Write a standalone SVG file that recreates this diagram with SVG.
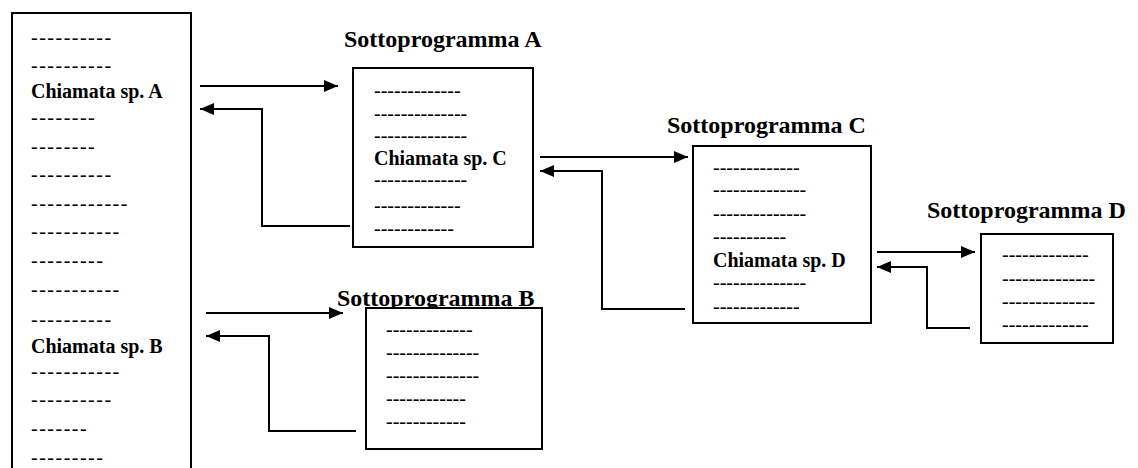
<svg xmlns="http://www.w3.org/2000/svg" width="1138" height="468" viewBox="0 0 1138 468">
<defs>
<style>
.box{fill:#fff;stroke:#000;stroke-width:2}
.t{font-family:"Liberation Serif","Times New Roman",serif;font-size:20px;fill:#000}
.d{font-family:"Liberation Serif","Times New Roman",serif;font-size:20px;fill:#000}
.dl{font-family:"Liberation Serif","Times New Roman",serif;font-size:20px;letter-spacing:1.5px;fill:#000}
.b{font-family:"Liberation Serif","Times New Roman",serif;font-size:20px;font-weight:bold;fill:#000}
.h{font-family:"Liberation Serif","Times New Roman",serif;font-size:24px;font-weight:bold;fill:#000}
.c{fill:none;stroke:#000;stroke-width:2}
</style>
<marker id="ah" markerUnits="userSpaceOnUse" markerWidth="14" markerHeight="12" refX="14" refY="6" orient="auto">
<path d="M0,0 L14,6 L0,12 z" fill="#000"/>
</marker>
</defs>
<rect width="1138" height="468" fill="#fff"/>

<g id="main">
<path class="box" d="M12,472 V13 H191 V472"/>
<text class="dl" x="31" y="43.5">----------</text>
<text class="dl" x="31" y="71.8">----------</text>
<text class="b" x="31" y="98">Chiamata sp. A</text>
<text class="dl" x="31" y="123.8">--------</text>
<text class="dl" x="31" y="152.5">--------</text>
<text class="dl" x="31" y="181.2">----------</text>
<text class="dl" x="31" y="209.5">------------</text>
<text class="dl" x="31" y="237.8">-----------</text>
<text class="dl" x="31" y="267.2">---------</text>
<text class="dl" x="31" y="296.2">-----------</text>
<text class="dl" x="31" y="325.5">----------</text>
<text class="b" x="31" y="352.7">Chiamata sp. B</text>
<text class="dl" x="31" y="377.8">-----------</text>
<text class="dl" x="31" y="406.2">----------</text>
<text class="dl" x="31" y="435.2">-------</text>
<text class="dl" x="31" y="463.5">---------</text>
</g>

<g id="spA">
<text class="h" x="344" y="47">Sottoprogramma A</text>
<rect class="box" x="353" y="68" width="180" height="179"/>
<text class="d" x="374" y="97.2">-------------</text>
<text class="d" x="374" y="119.5">--------------</text>
<text class="d" x="374" y="141.8">--------------</text>
<text class="b" x="374" y="165">Chiamata sp. C</text>
<text class="d" x="374" y="186.2">--------------</text>
<text class="d" x="374" y="212.2">-------------</text>
<text class="d" x="374" y="234.5">------------</text>
</g>

<g id="spB">
<text class="h" x="337" y="306">Sottoprogramma B</text>
<rect class="box" x="366" y="308" width="176" height="141"/>
<text class="d" x="386" y="335.5">-------------</text>
<text class="d" x="386" y="358.8">--------------</text>
<text class="d" x="386" y="381.8">--------------</text>
<text class="d" x="386" y="404.8">------------</text>
<text class="d" x="386" y="427.8">------------</text>
</g>

<g id="spC">
<text class="h" x="667" y="133">Sottoprogramma C</text>
<rect class="box" x="693" y="146" width="178" height="177"/>
<text class="d" x="713" y="173.8">-------------</text>
<text class="d" x="713" y="196.2">--------------</text>
<text class="d" x="713" y="220.2">--------------</text>
<text class="d" x="713" y="242.8">-----------</text>
<text class="b" x="713" y="266.7">Chiamata sp. D</text>
<text class="d" x="713" y="288.8">--------------</text>
<text class="d" x="713" y="312.8">-------------</text>
</g>

<g id="spD">
<text class="h" x="927" y="218">Sottoprogramma D</text>
<rect class="box" x="981" y="234" width="132" height="109"/>
<text class="d" x="1002" y="261.2">-------------</text>
<text class="d" x="1002" y="285.2">--------------</text>
<text class="d" x="1002" y="307.8">--------------</text>
<text class="d" x="1002" y="331.2">-------------</text>
</g>

<g id="connectors">
<path class="c" d="M200,86 H338" marker-end="url(#ah)"/>
<path class="c" d="M350,226 H262 V109 H200" marker-end="url(#ah)"/>
<path class="c" d="M206,313 H343" marker-end="url(#ah)"/>
<path class="c" d="M356,431 H269 V336 H206" marker-end="url(#ah)"/>
<path class="c" d="M540,157 H688" marker-end="url(#ah)"/>
<path class="c" d="M685,309 H602 V171 H540" marker-end="url(#ah)"/>
<path class="c" d="M877,252 H975" marker-end="url(#ah)"/>
<path class="c" d="M970,328 H927 V267 H877" marker-end="url(#ah)"/>
</g>
</svg>
